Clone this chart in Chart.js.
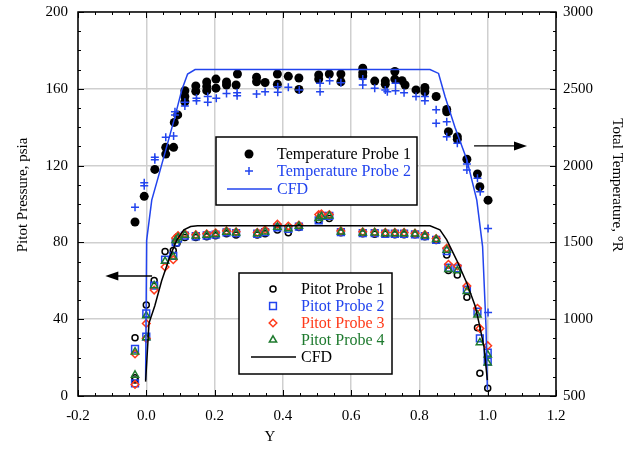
<!DOCTYPE html>
<html>
<head>
<meta charset="utf-8">
<script src="https://cdn.jsdelivr.net/npm/chart.js@4.4.1/dist/chart.umd.min.js"></script>
<style>
  html, body { margin: 0; padding: 0; background: #fff; }
  canvas { display: block; }
</style>
</head>
<body>
<canvas id="chart" width="635" height="454"></canvas>
<script>
// ── Data: pitot pressure (psia) ─────────────────────────────
const pitot1X = [-0.033, -0.033, -0.033, 0.0, 0.023, 0.055, 0.079, 0.09, 0.113, 0.145, 0.177, 0.203, 0.235, 0.263, 0.325, 0.348, 0.384, 0.416, 0.447, 0.505, 0.536, 0.57, 0.634, 0.669, 0.7, 0.728, 0.755, 0.787, 0.816, 0.849, 0.88, 0.885, 0.911, 0.939, 0.97, 0.977, 1.0];
const pitot1P = [30.4, 9.5, 8.3, 47.4, 60.2, 75.2, 75.8, 79.5, 82.5, 82.5, 83, 83.5, 84.5, 83.8, 83.8, 84.5, 86.4, 85, 87.8, 91.5, 92.5, 85, 84.5, 84.3, 84.2, 84, 84, 84, 83, 81, 73.4, 65.3, 63, 51.4, 35.6, 11.8, 4];

const pitot2X = [-0.033, -0.033, 0.0, 0.0, 0.023, 0.055, 0.079, 0.086, 0.093, 0.113, 0.145, 0.177, 0.203, 0.235, 0.263, 0.325, 0.348, 0.384, 0.416, 0.447, 0.505, 0.513, 0.536, 0.57, 0.634, 0.669, 0.7, 0.728, 0.755, 0.787, 0.816, 0.849, 0.88, 0.885, 0.911, 0.939, 0.97, 0.977, 1.0, 1.0];
const pitot2P = [24.5, 6.6, 43, 30.9, 57.5, 71, 73, 80, 82, 83.5, 83.2, 83.6, 84, 85.2, 84.8, 84.5, 85.3, 87.8, 87, 88.2, 91.5, 93.8, 93.8, 85.3, 84.8, 84.8, 84.5, 84.5, 84.5, 84.2, 83.3, 81.3, 75.5, 66.8, 66.5, 55.4, 44, 30, 22.6, 17.9];

const pitot3X = [-0.033, -0.033, 0.0, 0.0, 0.023, 0.055, 0.079, 0.086, 0.093, 0.113, 0.145, 0.177, 0.203, 0.235, 0.263, 0.325, 0.348, 0.384, 0.416, 0.447, 0.505, 0.513, 0.536, 0.57, 0.634, 0.669, 0.7, 0.728, 0.755, 0.787, 0.816, 0.849, 0.88, 0.885, 0.911, 0.939, 0.97, 0.977, 1.0];
const pitot3P = [21.9, 6, 37.8, 30, 55.2, 67.2, 71, 82.3, 83.5, 84.5, 84, 84.5, 85, 86, 85.5, 85.2, 86.5, 89.5, 88.5, 89, 94.5, 94.8, 94.5, 86, 85.5, 85.3, 85.2, 85.2, 85.2, 84.8, 84, 82, 77, 68.6, 67.8, 57.3, 45.7, 35.2, 26.2];

const pitot4X = [-0.033, -0.033, 0.0, 0.0, 0.023, 0.055, 0.079, 0.086, 0.093, 0.113, 0.145, 0.177, 0.203, 0.235, 0.263, 0.325, 0.348, 0.384, 0.416, 0.447, 0.505, 0.513, 0.536, 0.57, 0.634, 0.669, 0.7, 0.728, 0.755, 0.787, 0.816, 0.849, 0.88, 0.885, 0.911, 0.939, 0.97, 0.977, 1.0, 1.0];
const pitot4P = [23, 10.9, 41.8, 30.4, 57.5, 70.2, 72.5, 81, 82.5, 83.8, 83.4, 83.8, 84.2, 85.4, 85, 84.6, 85.5, 88, 87.2, 88.5, 92.5, 93.5, 93.8, 85.5, 85, 85, 84.6, 84.6, 84.6, 84.4, 83.5, 81.5, 76, 66, 65.3, 54.5, 42.2, 27.8, 21.4, 17.2];

const cfdPitotX = [-0.002, 0.008, 0.025, 0.045, 0.07, 0.09, 0.11, 0.13, 0.15, 0.5, 0.831, 0.86, 0.88, 0.909, 0.939, 0.964, 0.977, 0.989, 0.999];
const cfdPitotP = [7.5, 38, 47, 60, 73, 81.5, 86.5, 88.3, 88.7, 88.7, 88.7, 86.5, 81.3, 70.8, 58.7, 46.5, 36, 25.7, 8.3];

// ── Data: total temperature (°R) ────────────────────────────
const tempProbe1X = [-0.033, -0.006, 0.025, 0.057, 0.057, 0.08, 0.082, 0.092, 0.113, 0.113, 0.113, 0.145, 0.145, 0.177, 0.177, 0.177, 0.204, 0.204, 0.235, 0.235, 0.267, 0.263, 0.323, 0.323, 0.348, 0.384, 0.384, 0.416, 0.447, 0.447, 0.505, 0.505, 0.536, 0.57, 0.57, 0.634, 0.634, 0.634, 0.669, 0.7, 0.7, 0.728, 0.728, 0.749, 0.758, 0.79, 0.816, 0.816, 0.849, 0.88, 0.88, 0.885, 0.911, 0.911, 0.939, 0.97, 0.977, 1.001];
const tempProbe1T = [1633, 1800, 1975, 2119, 2075, 2119, 2281, 2330, 2488, 2450, 2416, 2519, 2484, 2544, 2515, 2488, 2563, 2504, 2544, 2525, 2596, 2525, 2575, 2546, 2541, 2596, 2529, 2581, 2570, 2496, 2590, 2563, 2596, 2596, 2546, 2634, 2605, 2584, 2550, 2550, 2529, 2613, 2563, 2553, 2525, 2493, 2509, 2481, 2450, 2366, 2350, 2221, 2188, 2171, 2041, 1945, 1863, 1775];

const tempProbe2X = [-0.033, -0.006, -0.006, 0.025, 0.025, 0.057, 0.08, 0.084, 0.084, 0.113, 0.113, 0.147, 0.147, 0.18, 0.18, 0.205, 0.235, 0.266, 0.266, 0.323, 0.348, 0.385, 0.385, 0.416, 0.448, 0.509, 0.509, 0.537, 0.57, 0.634, 0.634, 0.669, 0.7, 0.706, 0.73, 0.73, 0.755, 0.79, 0.816, 0.816, 0.849, 0.849, 0.88, 0.88, 0.911, 0.939, 0.939, 0.97, 0.978, 1.001, 1.001];
const tempProbe2T = [1729, 1888, 1869, 2054, 2038, 2184, 2193, 2350, 2330, 2413, 2388, 2438, 2423, 2450, 2413, 2438, 2470, 2454, 2475, 2466, 2481, 2478, 2513, 2510, 2493, 2536, 2481, 2553, 2540, 2563, 2525, 2504, 2493, 2481, 2536, 2488, 2475, 2450, 2450, 2423, 2363, 2275, 2286, 2188, 2145, 2010, 1971, 1918, 1830, 1591, 1043];

const cfdTempX = [-0.002, 0.001, 0.016, 0.035, 0.06, 0.084, 0.104, 0.121, 0.143, 0.5, 0.831, 0.856, 0.875, 0.904, 0.939, 0.968, 0.985, 0.995, 0.999];
const cfdTempT = [604, 1513, 1775, 1925, 2125, 2319, 2493, 2596, 2625, 2625, 2625, 2600, 2450, 2250, 2038, 1775, 1473, 950, 540];

// ── Tick values ─────────────────────────────────────────────
const xTickValues = [-0.2, 0.0, 0.2, 0.4, 0.6, 0.8, 1.0, 1.2];
const pressureTicks = [0, 40, 80, 120, 160, 200];
const temperatureTicks = [500, 1000, 1500, 2000, 2500, 3000];

// ── Style helpers ───────────────────────────────────────────
const SERIF = "'Liberation Serif', 'Times New Roman', serif";
const BLACK = '#000000';
const BLUE = '#2244ee';
const RED = '#ff3a1a';
const GREEN = '#1e7a2e';

function pts(xs, ys) { return xs.map((x, i) => ({ x: x, y: ys[i] })); }

function marker(style, radius, color, fill) {
  return {
    pointStyle: style, pointRadius: radius, pointHoverRadius: radius,
    pointBorderColor: color, pointBackgroundColor: fill,
    pointBorderWidth: style === 'circle' && fill !== 'transparent' ? 0 : 1.5,
    borderColor: color, backgroundColor: fill, showLine: false
  };
}

const dsTemp1 = Object.assign({ label: 'Temperature Probe 1', data: pts(tempProbe1X, tempProbe1T), yAxisID: 'y1', textColor: BLACK }, marker('circle', 4.5, BLACK, BLACK));
const dsTemp2 = Object.assign({ label: 'Temperature Probe 2', data: pts(tempProbe2X, tempProbe2T), yAxisID: 'y1', textColor: BLUE }, marker('cross', 4, BLUE, BLUE));
const dsCfdTemp = { label: 'CFD', data: pts(cfdTempX, cfdTempT), yAxisID: 'y1', showLine: true, borderColor: BLUE, borderWidth: 1.5, pointRadius: 0, tension: 0, textColor: BLUE };

const dsPitot1 = Object.assign({ label: 'Pitot Probe 1', data: pts(pitot1X, pitot1P), yAxisID: 'y', textColor: BLACK }, marker('circle', 3, BLACK, 'transparent'));
const dsPitot2 = Object.assign({ label: 'Pitot Probe 2', data: pts(pitot2X, pitot2P), yAxisID: 'y', textColor: BLUE }, marker('rect', 4.8, BLUE, 'transparent'));
const dsPitot3 = Object.assign({ label: 'Pitot Probe 3', data: pts(pitot3X, pitot3P), yAxisID: 'y', textColor: RED }, marker('rectRot', 3.8, RED, 'transparent'));
const dsPitot4 = Object.assign({ label: 'Pitot Probe 4', data: pts(pitot4X, pitot4P), yAxisID: 'y', textColor: GREEN }, marker('triangle', 4.2, GREEN, 'transparent'));
const dsCfdPitot = { label: 'CFD', data: pts(cfdPitotX, cfdPitotP), yAxisID: 'y', showLine: true, borderColor: BLACK, borderWidth: 1.5, pointRadius: 0, tension: 0, textColor: BLACK };

// ── Frame + inward major/minor ticks ────────────────────────
const frameTicks = {
  id: 'frameTicks',
  afterDatasetsDraw(chart) {
    const { ctx, chartArea: a, scales } = chart;
    const x = scales.x, y = scales.y;
    ctx.save();
    ctx.strokeStyle = BLACK;
    ctx.lineWidth = 1;
    ctx.beginPath();
    for (let i = 0; i <= 28; i++) {
      const px = Math.round(x.getPixelForValue(-0.2 + i * 0.05)) + 0.5;
      const len = i % 4 === 0 ? 6 : 3;
      ctx.moveTo(px, a.bottom); ctx.lineTo(px, a.bottom - len);
      ctx.moveTo(px, a.top); ctx.lineTo(px, a.top + len);
    }
    for (let i = 0; i <= 20; i++) {
      const py = Math.round(y.getPixelForValue(i * 10)) + 0.5;
      const len = i % 4 === 0 ? 6 : 3;
      ctx.moveTo(a.left, py); ctx.lineTo(a.left + len, py);
      ctx.moveTo(a.right, py); ctx.lineTo(a.right - len, py);
    }
    ctx.stroke();
    ctx.lineWidth = 1.5;
    ctx.strokeRect(a.left, a.top, a.right - a.left, a.bottom - a.top);
    ctx.restore();
  }
};

// ── Legends, arrows, axis titles ────────────────────────────
function drawArrow(ctx, x0, y0, x1, y1) {
  const dir = Math.sign(x1 - x0);
  ctx.beginPath();
  ctx.moveTo(x0, y0); ctx.lineTo(x1 - dir * 10, y1);
  ctx.stroke();
  ctx.beginPath();
  ctx.moveTo(x1, y1);
  ctx.lineTo(x1 - dir * 13, y1 - 4.5);
  ctx.lineTo(x1 - dir * 13, y1 + 4.5);
  ctx.closePath();
  ctx.fill();
}

function drawLegendBox(ctx, box, items) {
  ctx.save();
  ctx.fillStyle = '#fff';
  ctx.fillRect(box.x, box.y, box.w, box.h);
  ctx.strokeStyle = BLACK;
  ctx.lineWidth = 1.5;
  ctx.strokeRect(box.x, box.y, box.w, box.h);
  ctx.font = '16px ' + SERIF;
  ctx.textBaseline = 'middle';
  ctx.textAlign = 'left';
  items.forEach((ds, i) => {
    const cy = box.rows[i];
    if (ds.showLine) {
      ctx.strokeStyle = ds.borderColor;
      ctx.lineWidth = ds.borderWidth;
      ctx.beginPath();
      ctx.moveTo(box.lineX0, cy); ctx.lineTo(box.lineX1, cy);
      ctx.stroke();
    } else {
      ctx.fillStyle = ds.pointBackgroundColor;
      ctx.strokeStyle = ds.pointBorderColor;
      ctx.lineWidth = ds.pointBorderWidth;
      Chart.helpers.drawPoint(ctx, { pointStyle: ds.pointStyle, radius: ds.pointRadius, rotation: 0, borderWidth: ds.pointBorderWidth }, box.symX, cy);
    }
    ctx.fillStyle = ds.textColor;
    ctx.fillText(ds.label, box.textX, cy + 1);
  });
  ctx.restore();
}

const overlays = {
  id: 'overlays',
  afterDraw(chart) {
    const { ctx, scales } = chart;
    const x = scales.x, y = scales.y, y1 = scales.y1;
    ctx.save();
    ctx.strokeStyle = BLACK; ctx.fillStyle = BLACK; ctx.lineWidth = 1.3;
    drawArrow(ctx, x.getPixelForValue(0.017), y.getPixelForValue(62.5), x.getPixelForValue(-0.12), y.getPixelForValue(62.5));
    drawArrow(ctx, x.getPixelForValue(0.96), y1.getPixelForValue(2128), x.getPixelForValue(1.115), y1.getPixelForValue(2128));

    ctx.font = '15px ' + SERIF;
    ctx.textAlign = 'center';
    ctx.textBaseline = 'middle';
    ctx.fillText('Y', 270, 437);
    ctx.save();
    ctx.translate(23, 195); ctx.rotate(-Math.PI / 2);
    ctx.fillText('Pitot Pressure, psia', 0, 0);
    ctx.restore();
    ctx.save();
    ctx.translate(617, 185); ctx.rotate(Math.PI / 2);
    ctx.fillText('Total Temperature, \u00B0R', 0, 0);
    ctx.restore();
    ctx.restore();

    drawLegendBox(ctx, { x: 216, y: 137, w: 201, h: 68, rows: [154, 171, 189], symX: 249, textX: 277, lineX0: 227, lineX1: 272 },
      [dsTemp1, dsTemp2, dsCfdTemp]);
    drawLegendBox(ctx, { x: 239, y: 273, w: 153, h: 101, rows: [289, 306, 323, 340, 357], symX: 273, textX: 301, lineX0: 251, lineX1: 296 },
      [dsPitot1, dsPitot2, dsPitot3, dsPitot4, dsCfdPitot]);
  }
};

const tickFont = { family: SERIF, size: 15 };
const gridStyle = { color: '#cfcfcf', lineWidth: 1.5, drawTicks: false };

function noPadV(s, w) { s.width = w; s.paddingTop = 0; s.paddingBottom = 0; }

new Chart(document.getElementById('chart'), {
  type: 'scatter',
  data: {
    // first dataset is painted last (on top)
    datasets: [dsCfdPitot, dsCfdTemp, dsPitot4, dsPitot3, dsPitot2, dsPitot1, dsTemp2, dsTemp1]
  },
  options: {
    responsive: false,
    animation: false,
    layout: { padding: { top: 12, left: 0, right: 0, bottom: 0 } },
    plugins: { legend: { display: false }, tooltip: { enabled: false } },
    scales: {
      x: {
        type: 'linear', min: -0.2, max: 1.2,
        afterBuildTicks: s => { s.ticks = xTickValues.map(v => ({ value: v })); },
        afterFit: s => { s.height = 58; s.paddingLeft = 0; s.paddingRight = 0; },
        grid: gridStyle,
        border: { display: false },
        ticks: { font: tickFont, color: BLACK, padding: 11, maxRotation: 0, callback: v => v.toFixed(1) }
      },
      y: {
        type: 'linear', position: 'left', min: 0, max: 200,
        afterBuildTicks: s => { s.ticks = pressureTicks.map(v => ({ value: v })); },
        afterFit: s => noPadV(s, 78),
        grid: gridStyle,
        border: { display: false },
        ticks: { font: tickFont, color: BLACK, padding: 10, callback: v => String(v) }
      },
      y1: {
        type: 'linear', position: 'right', min: 500, max: 3000,
        afterBuildTicks: s => { s.ticks = temperatureTicks.map(v => ({ value: v })); },
        afterFit: s => noPadV(s, 79),
        grid: { drawOnChartArea: false, drawTicks: false },
        border: { display: false },
        ticks: { font: tickFont, color: BLACK, padding: 7, callback: v => String(v) }
      }
    }
  },
  plugins: [frameTicks, overlays]
});
</script>
</body>
</html>
